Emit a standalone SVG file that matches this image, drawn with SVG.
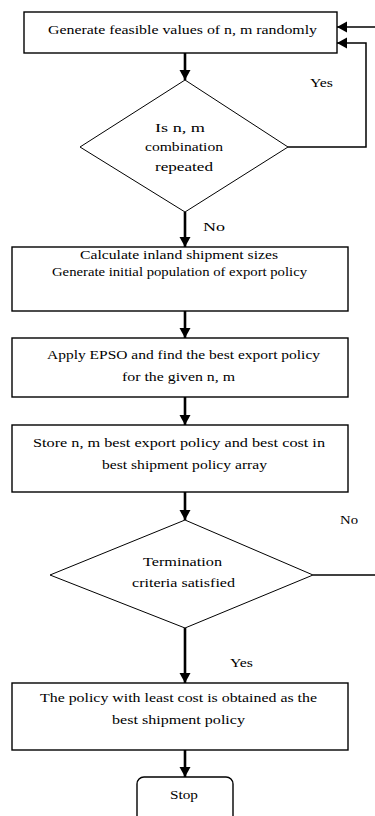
<svg xmlns="http://www.w3.org/2000/svg" width="375" height="816" viewBox="0 0 375 816">
<style>
.box{fill:#fff;stroke:#000;stroke-width:1.4}
.dia{fill:#fff;stroke:#000;stroke-width:1}
.t{font-family:"Liberation Serif","Times New Roman",serif;font-size:12.5px;fill:#000;text-anchor:start}
.c{fill:none;stroke:#000;stroke-width:2.6}
.h{fill:none;stroke:#000;stroke-width:1.5}
</style>
<defs>
<marker id="ah" markerWidth="12" markerHeight="12" refX="10" refY="6" orient="auto" markerUnits="userSpaceOnUse">
<path d="M0,0.5 L10,6 L0,11.5 Z" fill="#000"/>
</marker>
</defs>
<rect width="375" height="816" fill="#fff"/>
<g id="connectors">
<line class="c" x1="185" y1="53" x2="185" y2="80" marker-end="url(#ah)"/>
<line class="c" x1="185" y1="212" x2="185" y2="247" marker-end="url(#ah)"/>
<line class="c" x1="185" y1="311" x2="185" y2="338" marker-end="url(#ah)"/>
<line class="c" x1="185" y1="397" x2="185" y2="425" marker-end="url(#ah)"/>
<line class="c" x1="185" y1="492" x2="185" y2="520" marker-end="url(#ah)"/>
<line class="c" x1="185" y1="628" x2="185" y2="683" marker-end="url(#ah)"/>
<line class="c" x1="185" y1="750" x2="185" y2="777" marker-end="url(#ah)"/>
<line class="h" x1="375" y1="27" x2="337" y2="27" stroke-width="2" marker-end="url(#ah)"/>
<polyline class="h" points="288,147 366,147 366,43 337,43" marker-end="url(#ah)"/>
<line class="h" x1="313" y1="575" x2="375" y2="575"/>
<text class="t" x="310" y="87" textLength="23" lengthAdjust="spacingAndGlyphs">Yes</text>
<text class="t" x="203" y="231" textLength="22" lengthAdjust="spacingAndGlyphs">No</text>
<text class="t" x="340" y="524" textLength="18" lengthAdjust="spacingAndGlyphs">No</text>
<text class="t" x="230" y="667" textLength="23" lengthAdjust="spacingAndGlyphs">Yes</text>
</g>
<g id="n1">
<rect class="box" x="24" y="12" width="313" height="41"/>
<text class="t" x="48" y="34" textLength="269" lengthAdjust="spacingAndGlyphs">Generate feasible values of n, m randomly</text>
</g>
<g id="n2">
<polygon class="dia" points="185,80 288,147 185,212 80,147"/>
<text class="t" x="155" y="132" textLength="50" lengthAdjust="spacingAndGlyphs">Is n, m</text>
<text class="t" x="145" y="151" textLength="78" lengthAdjust="spacingAndGlyphs">combination</text>
<text class="t" x="155" y="171" textLength="58" lengthAdjust="spacingAndGlyphs">repeated</text>
</g>
<g id="n3">
<rect class="box" x="12" y="247" width="336" height="64"/>
<text class="t" x="80" y="259" textLength="198" lengthAdjust="spacingAndGlyphs">Calculate inland shipment sizes</text>
<text class="t" x="52" y="276" textLength="255" lengthAdjust="spacingAndGlyphs">Generate initial population of export policy</text>
</g>
<g id="n4">
<rect class="box" x="12" y="338" width="336" height="59"/>
<text class="t" x="47" y="359" textLength="273" lengthAdjust="spacingAndGlyphs">Apply EPSO and find the best export policy</text>
<text class="t" x="122" y="381" textLength="113" lengthAdjust="spacingAndGlyphs">for the given n, m</text>
</g>
<g id="n5">
<rect class="box" x="12" y="425" width="336" height="67"/>
<text class="t" x="33" y="447" textLength="292" lengthAdjust="spacingAndGlyphs">Store n, m best export policy and best cost in</text>
<text class="t" x="102" y="469" textLength="165" lengthAdjust="spacingAndGlyphs">best shipment policy array</text>
</g>
<g id="n6">
<polygon class="dia" points="185,520 313,575 185,628 50,575"/>
<text class="t" x="143" y="566" textLength="79" lengthAdjust="spacingAndGlyphs">Termination</text>
<text class="t" x="132" y="587" textLength="103" lengthAdjust="spacingAndGlyphs">criteria satisfied</text>
</g>
<g id="n7">
<rect class="box" x="12" y="683" width="336" height="67"/>
<text class="t" x="40" y="702" textLength="277" lengthAdjust="spacingAndGlyphs">The policy with least cost is obtained as the</text>
<text class="t" x="112" y="724" textLength="133" lengthAdjust="spacingAndGlyphs">best shipment policy</text>
</g>
<g id="n8">
<rect class="box" x="137" y="777" width="96" height="60" rx="7"/>
<text class="t" x="170" y="799" textLength="28" lengthAdjust="spacingAndGlyphs">Stop</text>
</g>
</svg>
